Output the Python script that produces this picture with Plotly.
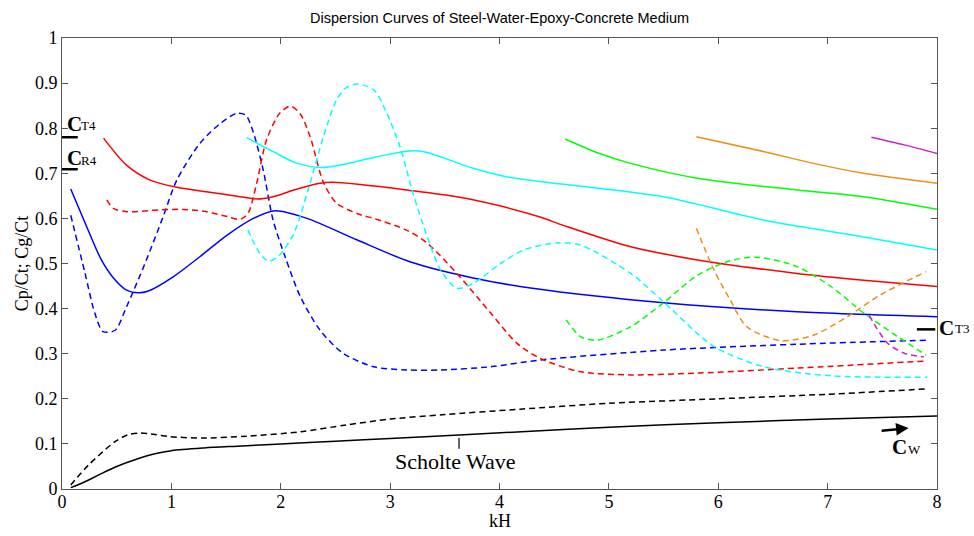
import plotly.graph_objects as go

# ---------------- data ----------------
scholte_phase_x = [0.08, 0.2, 0.35, 0.5, 0.68, 0.85, 1.0, 1.3, 1.6, 2.0, 2.5, 3.0, 3.63, 4.2, 5.0, 6.0, 7.0, 8.0]
scholte_phase_y = [0.003, 0.015, 0.033, 0.05, 0.066, 0.078, 0.085, 0.091, 0.095, 0.1, 0.106, 0.112, 0.12, 0.127, 0.137, 0.147, 0.155, 0.162]

scholte_group_x = [0.08, 0.25, 0.485, 0.6, 0.7, 0.85, 0.99, 1.29, 1.69, 2.18, 2.6, 3.0, 3.5, 4.19, 5.0, 6.0, 7.0, 7.91]
scholte_group_y = [0.009, 0.055, 0.105, 0.12, 0.124, 0.121, 0.116, 0.113, 0.117, 0.127, 0.142, 0.155, 0.165, 0.177, 0.19, 0.2, 0.21, 0.222]

blue_phase_x = [0.08, 0.22, 0.36, 0.47, 0.59, 0.70, 0.79, 1.02, 1.26, 1.51, 1.75, 1.95, 2.24, 2.70, 3.18, 3.76, 4.3, 5.5, 6.72, 8.0]
blue_phase_y = [0.665, 0.585, 0.508, 0.468, 0.441, 0.435, 0.439, 0.471, 0.515, 0.563, 0.6, 0.617, 0.6, 0.552, 0.504, 0.468, 0.445, 0.413, 0.393, 0.382]

blue_group_x = [0.08, 0.21, 0.30, 0.375, 0.485, 0.59, 0.76, 0.925, 1.05, 1.26, 1.45, 1.6, 1.68, 1.75, 1.84, 1.93, 2.04, 2.18, 2.36, 2.57, 2.85, 3.15, 3.46, 3.92, 4.37, 5.5, 6.72, 7.91]
blue_group_y = [0.607, 0.479, 0.39, 0.349, 0.352, 0.404, 0.501, 0.604, 0.685, 0.766, 0.811, 0.833, 0.829, 0.79, 0.707, 0.596, 0.515, 0.426, 0.352, 0.301, 0.271, 0.264, 0.264, 0.271, 0.286, 0.308, 0.321, 0.330]

red_phase_x = [0.38, 0.59, 0.805, 1.05, 1.35, 1.63, 1.78, 1.93, 2.12, 2.36, 2.48, 2.73, 3.15, 3.61, 4.0, 4.37, 4.59, 5.2, 5.81, 6.72, 7.33, 8.0]
red_phase_y = [0.778, 0.718, 0.685, 0.669, 0.658, 0.648, 0.643, 0.648, 0.663, 0.678, 0.680, 0.675, 0.663, 0.648, 0.628, 0.603, 0.584, 0.537, 0.508, 0.478, 0.463, 0.449]

red_group_x = [0.41, 0.47, 0.59, 0.90, 1.11, 1.32, 1.51, 1.63, 1.70, 1.78, 1.87, 1.99, 2.09, 2.18, 2.27, 2.39, 2.51, 2.73, 2.85, 3.15, 3.34, 3.61, 3.92, 4.16, 4.37, 4.74, 5.2, 5.81, 6.72, 7.91]
red_group_y = [0.641, 0.622, 0.615, 0.619, 0.620, 0.615, 0.604, 0.598, 0.611, 0.678, 0.774, 0.833, 0.849, 0.831, 0.78, 0.68, 0.634, 0.608, 0.600, 0.574, 0.545, 0.478, 0.390, 0.323, 0.290, 0.260, 0.253, 0.257, 0.268, 0.284]

cyan_phase_x = [1.69, 1.93, 2.15, 2.36, 2.54, 2.85, 3.15, 3.31, 3.76, 4.07, 4.37, 5.5, 6.42, 7.33, 8.0]
cyan_phase_y = [0.779, 0.748, 0.722, 0.713, 0.718, 0.735, 0.749, 0.748, 0.711, 0.692, 0.682, 0.648, 0.596, 0.559, 0.530]

cyan_group_x = [1.70, 1.81, 1.89, 1.99, 2.12, 2.25, 2.39, 2.51, 2.60, 2.70, 2.85, 2.97, 3.09, 3.21, 3.34, 3.46, 3.61, 3.76, 4.01, 4.22, 4.53, 4.74, 5.2, 5.5, 5.96, 6.42, 7.03, 7.91]
cyan_group_y = [0.574, 0.522, 0.505, 0.519, 0.567, 0.663, 0.781, 0.863, 0.89, 0.898, 0.885, 0.833, 0.759, 0.655, 0.559, 0.486, 0.445, 0.456, 0.500, 0.530, 0.546, 0.541, 0.478, 0.415, 0.316, 0.271, 0.251, 0.248]

green_phase_x = [4.60, 4.9, 5.2, 5.81, 6.72, 7.33, 8.0]
green_phase_y = [0.776, 0.745, 0.722, 0.689, 0.663, 0.648, 0.620]

green_group_x = [4.61, 4.74, 4.89, 5.2, 5.5, 5.81, 6.11, 6.36, 6.72, 7.03, 7.33, 7.64, 7.90]
green_group_y = [0.375, 0.338, 0.330, 0.360, 0.413, 0.474, 0.506, 0.514, 0.493, 0.449, 0.390, 0.338, 0.297]

orange_phase_x = [5.80, 6.42, 6.87, 7.33, 8.0]
orange_phase_y = [0.781, 0.748, 0.722, 0.700, 0.678]

orange_group_x = [5.80, 5.96, 6.11, 6.26, 6.57, 6.87, 7.18, 7.48, 7.90]
orange_group_y = [0.578, 0.486, 0.419, 0.360, 0.329, 0.341, 0.382, 0.430, 0.482]

magenta_phase_x = [7.40, 7.7, 8.0]
magenta_phase_y = [0.780, 0.763, 0.744]

magenta_group_x = [7.38, 7.45, 7.55, 7.70, 7.88]
magenta_group_y = [0.385, 0.356, 0.323, 0.301, 0.293]

x_ticks = [0, 1, 2, 3, 4, 5, 6, 7, 8]
y_ticks = [0, 0.1, 0.2, 0.3, 0.4, 0.5, 0.6, 0.7, 0.8, 0.9, 1]

# ---------------- styles ----------------
BLUE, RED, CYAN, GREEN = "#0000FF", "#FF0000", "#00FFFF", "#00FF00"
ORANGE, MAGENTA, BLACK = "#E8901C", "#CC22CC", "#000000"
SERIF = "Liberation Serif, Times New Roman, serif"
DASH = "6px,4px"

series = [
    (scholte_phase_x, scholte_phase_y, BLACK, "solid"),
    (scholte_group_x, scholte_group_y, BLACK, DASH),
    (blue_phase_x, blue_phase_y, BLUE, "solid"),
    (blue_group_x, blue_group_y, BLUE, DASH),
    (red_phase_x, red_phase_y, RED, "solid"),
    (red_group_x, red_group_y, RED, DASH),
    (cyan_phase_x, cyan_phase_y, CYAN, "solid"),
    (cyan_group_x, cyan_group_y, CYAN, DASH),
    (green_phase_x, green_phase_y, GREEN, "solid"),
    (green_group_x, green_group_y, GREEN, DASH),
    (orange_phase_x, orange_phase_y, ORANGE, "solid"),
    (orange_group_x, orange_group_y, ORANGE, DASH),
    (magenta_phase_x, magenta_phase_y, MAGENTA, "solid"),
    (magenta_group_x, magenta_group_y, MAGENTA, DASH),
]

fig = go.Figure()
for xs, ys, col, dash in series:
    fig.add_trace(go.Scatter(
        x=xs, y=ys, mode="lines",
        line=dict(color=col, width=1.5, dash=dash, shape="spline", smoothing=0.8),
        showlegend=False, hoverinfo="skip"))

axis_common = dict(
    showgrid=False, zeroline=False, showline=True, linecolor="#555555", linewidth=1,
    mirror="ticks", ticks="inside", ticklen=6, tickcolor="#555555", automargin=False,
    tickfont=dict(family=SERIF, size=18, color="black"),
)

fig.update_layout(
    width=974, height=536,
    margin=dict(l=62, r=37, t=38, b=47, autoexpand=False),
    paper_bgcolor="white", plot_bgcolor="white",
    title=dict(text="Dispersion Curves of Steel-Water-Epoxy-Concrete Medium",
               x=0.5129, xanchor="center", y=0.966, yanchor="middle",
               font=dict(family="Liberation Sans, Arial, sans-serif", size=14.5, color="black")),
    xaxis=dict(range=[0, 8], tickvals=x_ticks, ticktext=[str(v) for v in x_ticks],
               ticklabelstandoff=-4, **axis_common),
    yaxis=dict(range=[0, 1], tickvals=y_ticks, ticktext=[("%g" % v) for v in y_ticks], **axis_common),
)

# axis titles
fig.add_annotation(x=0.5, y=-0.072, xref="paper", yref="paper", text="kH", showarrow=False,
                   xanchor="center", yanchor="middle",
                   font=dict(family=SERIF, size=18, color="black"))
fig.add_annotation(x=-0.046, y=0.5, xref="paper", yref="paper", text="Cp/Ct; Cg/Ct", showarrow=False,
                   xanchor="center", yanchor="middle", textangle=-90,
                   font=dict(family=SERIF, size=18, color="black"))

# ---------------- reference markers / labels ----------------
seg_style = dict(type="line", line=dict(color="black", width=2.5), xref="paper", yref="y")
fig.add_shape(x0=0, x1=0.018, y0=0.78, y1=0.78, **seg_style)
fig.add_shape(x0=0, x1=0.018, y0=0.709, y1=0.709, **seg_style)
fig.add_shape(x0=0.977, x1=0.998, y0=0.354, y1=0.354, **seg_style)
# Scholte tick
fig.add_shape(type="line", xref="x", yref="y", x0=3.63, x1=3.63, y0=0.089, y1=0.113,
              line=dict(color="black", width=1.2))

def big_c(x, y, xref="x"):
    fig.add_annotation(x=x, y=y, xref=xref, yref="y", text="<b>C</b>", showarrow=False,
                       xanchor="center", yanchor="middle",
                       font=dict(family=SERIF, size=21, color="black"))

def sub(x, y, t, xref="x"):
    fig.add_annotation(x=x, y=y, xref=xref, yref="y", text=t, showarrow=False,
                       xanchor="center", yanchor="middle",
                       font=dict(family=SERIF, size=13, color="black"))

big_c(0.11, 0.81)
sub(0.245, 0.806, "T4")
big_c(0.11, 0.733)
sub(0.245, 0.729, "R4")
big_c(1.0105, 0.358, xref="paper")
sub(1.0285, 0.355, "T3", xref="paper")
big_c(7.66, 0.094)
sub(7.79, 0.088, "W")

fig.add_annotation(x=3.6, y=0.06, xref="x", yref="y", text="Scholte Wave", showarrow=False,
                   xanchor="center", yanchor="middle",
                   font=dict(family=SERIF, size=22, color="black"))

# Cw arrow
fig.add_annotation(x=7.74, y=0.135, ax=7.48, ay=0.129, xref="x", yref="y", axref="x", ayref="y",
                   text="", showarrow=True, arrowhead=2, arrowsize=1, arrowwidth=2.5,
                   arrowcolor="black")

fig.write_html("out.html")
